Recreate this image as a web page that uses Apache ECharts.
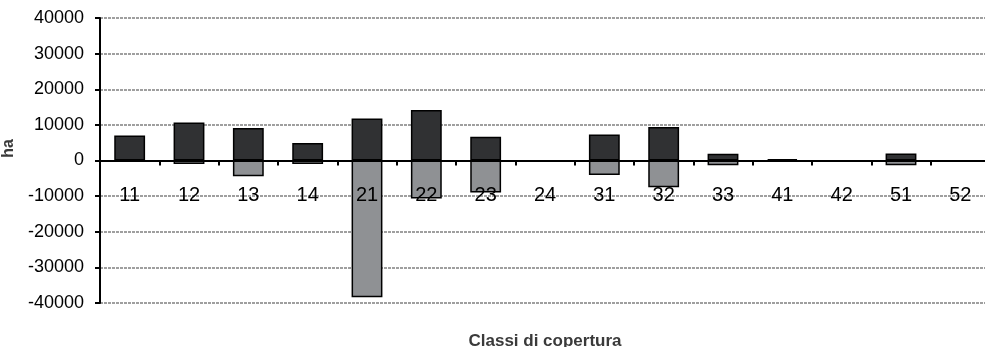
<!DOCTYPE html>
<html>
<head>
<meta charset="utf-8">
<script src="https://cdn.jsdelivr.net/npm/echarts@6/dist/echarts.min.js"></script>
<style>
  html, body { margin: 0; padding: 0; background: #fff; }
  #chart { width: 985px; height: 347px; }
</style>
</head>
<body>
<div id="chart"></div>
<script>
// classi di copertura
const categories = ["11", "12", "13", "14", "21", "22", "23", "24", "31", "32", "33", "41", "42", "51", "52"];
// superficie guadagnata (ha)
const gains = [7000, 10700, 9100, 4900, 11800, 14200, 6700, null, 7300, 9400, 1900, 400, null, 2000, null];
// superficie persa (ha)
const losses = [-400, -1000, -4400, -1000, -38400, -10700, -9000, null, -4100, -7500, -1300, -300, null, -1300, null];
const yTicks = { min: -40000, max: 40000, step: 10000 };

const chart = echarts.init(document.getElementById("chart"));

const option = {
  animation: false,
  grid: { left: 100, right: -5, top: 18, bottom: 44, containLabel: false, outerBoundsMode: "none" },
  xAxis: {
    type: "category",
    data: categories,
    z: 5,
    name: "Classi di copertura",
    nameLocation: "middle",
    nameGap: 30,
    nameTextStyle: { fontFamily: "Liberation Sans", fontSize: 17, fontWeight: "bold", color: "#3a3a3a" },
    axisLine: { onZero: true, lineStyle: { color: "#000", width: 2 } },
    axisTick: { show: true, length: 5, lineStyle: { color: "#000", width: 2 } },
    // labels sit just under the zero line
    axisLabel: { margin: -118, fontFamily: "Liberation Sans", fontSize: 20, color: "#000" },
    splitLine: { show: false }
  },
  yAxis: {
    type: "value",
    min: yTicks.min,
    max: yTicks.max,
    interval: yTicks.step,
    name: "ha",
    nameLocation: "middle",
    nameGap: 83,
    nameTextStyle: { fontFamily: "Liberation Sans", fontSize: 16, fontWeight: "bold", color: "#3a3a3a", padding: [0, 0, 0, 24] },
    axisLine: { show: true, lineStyle: { color: "#000", width: 2 } },
    axisTick: { show: true, length: 5, lineStyle: { color: "#000", width: 2 } },
    axisLabel: { margin: 16, fontFamily: "Liberation Sans", fontSize: 18, color: "#000", formatter: v => String(v) },
    splitLine: { show: true, lineStyle: { color: "#808080", width: 1.5, type: [3, 1] } }
  },
  series: [
    {
      name: "guadagno",
      type: "bar",
      data: gains,
      barWidth: "52%",
      barGap: "-100%",
      itemStyle: { color: "#303133", borderColor: "#000", borderWidth: 1.5 }
    },
    {
      name: "perdita",
      type: "bar",
      data: losses,
      barWidth: "52%",
      itemStyle: { color: "#8f9194", borderColor: "#000", borderWidth: 1.5 }
    }
  ]
};

chart.setOption(option);
</script>
</body>
</html>
